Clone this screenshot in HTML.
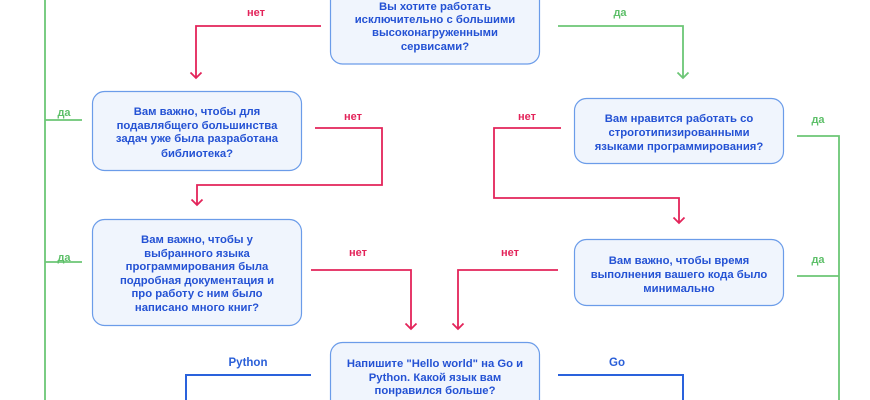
<!DOCTYPE html>
<html><head><meta charset="utf-8">
<style>
html,body{margin:0;padding:0;background:#fff;}
svg{display:block;}
.t{font-family:"Liberation Sans",sans-serif;font-weight:bold;font-size:11.3px;fill:#2452d4;text-anchor:middle;}
.l{font-family:"Liberation Sans",sans-serif;font-weight:bold;font-size:11px;text-anchor:middle;}
.r{fill:#e3245a;}
.g{fill:#5cbf68;}
.b{fill:#2a5fd8;font-size:11.5px;}
.box{fill:#f0f5fd;stroke:#6b9ce9;stroke-width:1.2;}
.rl{fill:none;stroke:#e3245a;stroke-width:1.8;}
.gl{fill:none;stroke:#6cc676;stroke-width:1.8;}
.bl{fill:none;stroke:#2a62dc;stroke-width:2;}
</style></head><body>
<svg width="870" height="400" viewBox="0 0 870 400" xmlns="http://www.w3.org/2000/svg">
<!-- boxes -->
<rect class="box" x="330.5" y="-15" width="209" height="79" rx="12"/>
<rect class="box" x="92.5" y="91.5" width="209" height="79" rx="12"/>
<rect class="box" x="92.5" y="219.5" width="209" height="106" rx="12"/>
<rect class="box" x="574.5" y="98.5" width="209" height="65" rx="12"/>
<rect class="box" x="574.5" y="239.5" width="209" height="66" rx="12"/>
<rect class="box" x="330.5" y="342.5" width="209" height="70" rx="12"/>

<!-- green left -->
<path class="gl" d="M45 0 V400 M45 120 H82 M45 262 H82"/>
<!-- top no -->
<path class="rl" d="M321 26 H196 V78 M190.5 72.5 L196 78 L201.5 72.5"/>
<!-- top yes -->
<path class="gl" d="M558 26 H683 V78 M677.5 72.5 L683 78 L688.5 72.5"/>
<!-- box2 no -->
<path class="rl" d="M315 128 H382 V185 H197 V205 M191.5 199.5 L197 205 L202.5 199.5"/>
<!-- right box1 no -->
<path class="rl" d="M561 128 H494 V198 H679 V223 M673.5 217.5 L679 223 L684.5 217.5"/>
<!-- right box1 yes -->
<path class="gl" d="M797 136 H839 V400 M797 276 H839"/>
<!-- box3 no -->
<path class="rl" d="M311 270 H411 V329 M405.5 323.5 L411 329 L416.5 323.5"/>
<!-- right box2 no -->
<path class="rl" d="M558 270 H458 V329 M452.5 323.5 L458 329 L463.5 323.5"/>
<!-- blue -->
<path class="bl" d="M311 375 H186 V400 M558 375 H683 V400"/>

<!-- labels -->
<text class="l r" x="256" y="16">нет</text>
<text class="l g" x="620" y="16">да</text>
<text class="l g" x="64" y="116">да</text>
<text class="l g" x="64" y="261">да</text>
<text class="l r" x="353" y="120">нет</text>
<text class="l r" x="527" y="120">нет</text>
<text class="l g" x="818" y="123">да</text>
<text class="l g" x="818" y="263">да</text>
<text class="l r" x="358" y="256">нет</text>
<text class="l r" x="510" y="256">нет</text>
<text class="l b" x="248" y="366">Python</text>
<text class="l b" x="617" y="366">Go</text>

<!-- box texts -->
<text class="t" x="435" y="10">Вы хотите работать</text>
<text class="t" x="435" y="23">исключительно с большими</text>
<text class="t" x="435" y="36">высоконагруженными</text>
<text class="t" x="435" y="50">сервисами?</text>

<text class="t" x="197" y="115">Вам важно, чтобы для</text>
<text class="t" x="197" y="129">подавлябщего большинства</text>
<text class="t" x="197" y="142">задач уже была разработана</text>
<text class="t" x="197" y="157">библиотека?</text>

<text class="t" x="197" y="243">Вам важно, чтобы у</text>
<text class="t" x="197" y="257">выбранного языка</text>
<text class="t" x="197" y="270">программирования была</text>
<text class="t" x="197" y="284">подробная документация и</text>
<text class="t" x="197" y="297">про работу с ним было</text>
<text class="t" x="197" y="311">написано много книг?</text>

<text class="t" x="679" y="122">Вам нравится работать со</text>
<text class="t" x="679" y="136">строготипизированными</text>
<text class="t" x="679" y="150">языками программирования?</text>

<text class="t" x="679" y="264">Вам важно, чтобы время</text>
<text class="t" x="679" y="278">выполнения вашего кода было</text>
<text class="t" x="679" y="292">минимально</text>

<text class="t" x="435" y="367">Напишите "Hello world" на Go и</text>
<text class="t" x="435" y="381">Python. Какой язык вам</text>
<text class="t" x="435" y="394">понравился больше?</text>
</svg>
</body></html>
